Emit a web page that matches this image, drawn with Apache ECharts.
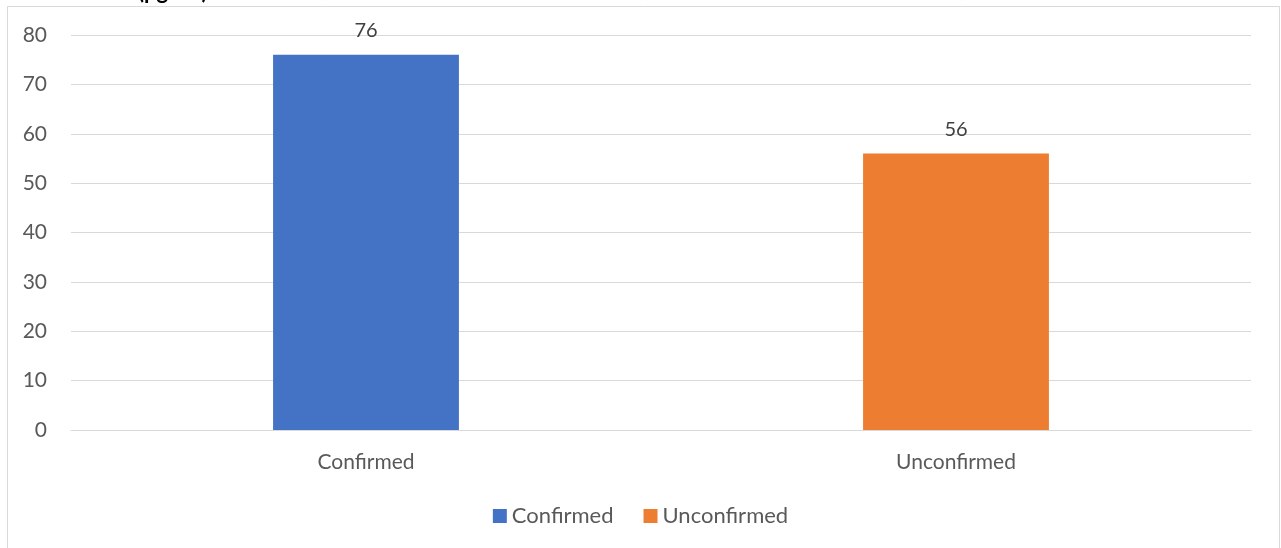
<!DOCTYPE html>
<html>
<head>
<meta charset="utf-8">
<script src="https://cdn.jsdelivr.net/npm/echarts@6/dist/echarts.min.js"></script>
<style>
html,body{margin:0;padding:0;background:#fff;}
#chart{width:1281px;height:548px;}
</style>
</head>
<body>
<div id="chart"></div>
<script>
var categories = ['Confirmed', 'Unconfirmed'];
var seriesNames = ['Confirmed', 'Unconfirmed'];
var values = [76, 56];
var barColors = ['#4472c4', '#ed7d31'];
var yTicks = [0, 10, 20, 30, 40, 50, 60, 70, 80];

var myChart = echarts.init(document.getElementById('chart'));

// one series per category so the legend shows both colours
var series = [];
for (var i = 0; i < seriesNames.length; i++) {
    var d = [];
    for (var j = 0; j < categories.length; j++) {
        d.push(i === j ? values[j] : '-');
    }
    series.push({
        name: seriesNames[i],
        type: 'bar',
        data: d,
        barWidth: '31.5%',
        barGap: '-100%',
        itemStyle: { color: barColors[i] },
        label: {
            show: true,
            position: 'top',
            distance: 14,
            color: '#404040',
            fontSize: 20,
            fontFamily: 'Lato'
        }
    });
}

myChart.setOption({
    animation: false,
    textStyle: { fontFamily: 'Lato' },
    title: {
        text: '(pg/ml)',
        left: 133,
        top: -24,
        textStyle: { fontSize: 22, fontWeight: 'bold', color: '#000', fontFamily: 'Lato' }
    },
    graphic: [{
        type: 'rect',
        shape: { x: 7.5, y: 6.5, width: 1272, height: 560 },
        style: { fill: '#fff', stroke: '#d9d9d9', lineWidth: 1 },
        z: -1
    }],
    legend: {
        data: seriesNames,
        bottom: 16,
        left: 'center',
        itemWidth: 14,
        itemHeight: 14,
        itemGap: 30,
        icon: 'rect',
        textStyle: { color: '#595959', fontSize: 22, fontFamily: 'Lato' }
    },
    grid: { left: 71, right: 30, top: 35, bottom: 118 },
    xAxis: {
        type: 'category',
        data: categories,
        axisLine: { lineStyle: { color: '#d9d9d9', width: 1 } },
        axisTick: { show: false },
        axisLabel: { color: '#595959', fontSize: 21, margin: 22, fontFamily: 'Lato' }
    },
    yAxis: {
        type: 'value',
        min: yTicks[0],
        max: yTicks[yTicks.length - 1],
        interval: 10,
        axisLine: { show: false },
        axisTick: { show: false },
        splitLine: { lineStyle: { color: '#d9d9d9', width: 1 } },
        axisLabel: { color: '#595959', fontSize: 21, margin: 24, fontFamily: 'Lato' }
    },
    series: series
});
</script>
</body>
</html>
